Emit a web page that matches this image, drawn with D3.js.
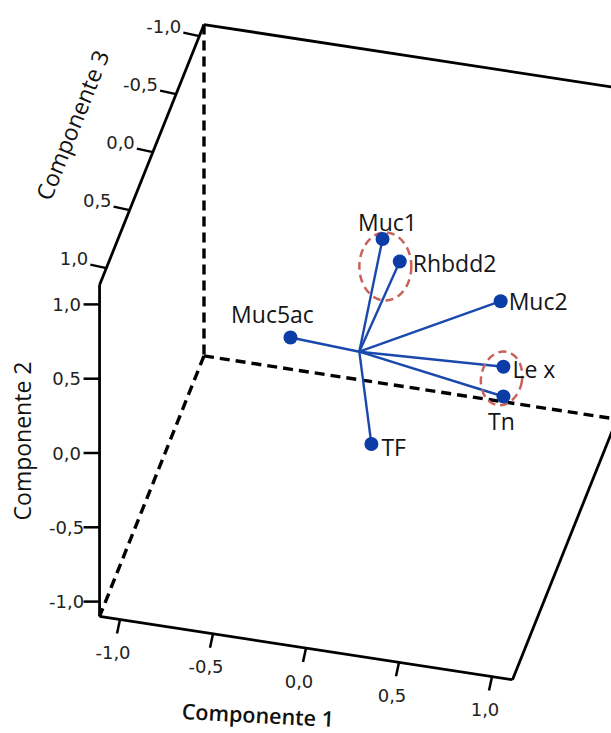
<!DOCTYPE html>
<html><head><meta charset="utf-8">
<script src="https://cdn.jsdelivr.net/npm/d3@7"></script>
<style>html,body{margin:0;padding:0;background:#fff}svg{display:block}</style>
</head><body>
<svg id="chart" width="611" height="733"></svg>
<script>
// ---- data ----
const variables = ["Muc1", "Rhbdd2", "Muc2", "Muc5ac", "Le x", "Tn", "TF"];
const comp1 = [0.10, 0.23, 0.71, -0.32, 0.80, 0.80, 0.14];
const comp2 = [0.70, 0.69, 0.32, 0.19, 0.13, -0.07, -0.36];
const comp3 = [-0.10, 0.05, -0.20, 0.20, 0.10, 0.10, 0.30];
const tickValues = [-1, -0.5, 0, 0.5, 1];
const axisTitles = ["Componente 1", "Componente 2", "Componente 3"];
// highlighted clusters (annotation centres in component space)
const highlightC1 = [0.14, 0.79];
const highlightC2 = [0.60, 0.05];
const highlightC3 = [0.00, 0.10];

// ---- projection (oblique 3D) built from d3 scales ----
const origin = [359.3, 351.7];
const sx1 = d3.scaleLinear().domain([-1, 1]).range([-186, 186]);
const sy1 = d3.scaleLinear().domain([-1, 1]).range([-28.5, 28.5]);
const sy2 = d3.scaleLinear().domain([-1, 1]).range([148.6, -148.6]);
const sx3 = d3.scaleLinear().domain([-1, 1]).range([46.5, -46.5]);
const sy3 = d3.scaleLinear().domain([-1, 1]).range([-116, 116]);
const proj = (a, b, c) => [origin[0] + sx1(a) + sx3(c), origin[1] + sy1(a) + sy2(b) + sy3(c)];
const ext1 = [-1.11, 1.11], ext2 = [-1.10, 1.13], ext3 = [-1.10, 1.146];

const fmt = d3.formatLocale({decimal: ",", thousands: ".", grouping: [3], currency: ["", "€"], minus: "-"}).format(".1f");

const svg = d3.select("#chart");
const line = d3.line();

// box edges
const [a0, a1] = ext1, [b0, b1] = ext2, [c0, c1] = ext3;
const dashedEdges = [
  [[a0, b1, c0], [a0, b0, c0]],
  [[a0, b0, c0], [a1, b0, c0]],
  [[a0, b0, c0], [a0, b0, c1]]
];
const solidEdges = [
  [[a0, b0, c1], [a1, b0, c1]],
  [[a0, b0, c1], [a0, b1, c1]],
  [[a0, b1, c1], [a0, b1, c0]],
  [[a0, b1, c0], [a1, b1, c0]],
  [[a1, b0, c1], [a1, b0, c0]],
  [[a1, b0, c0], [a1, b1, c0]]
];
svg.append("g").selectAll("path").data(dashedEdges).join("path")
  .attr("d", e => line(e.map(p => proj(...p))))
  .attr("fill", "none").attr("stroke", "#000").attr("stroke-width", 3.4)
  .attr("stroke-dasharray", "10,6");
svg.append("g").selectAll("path").data(solidEdges).join("path")
  .attr("d", e => line(e.map(p => proj(...p))))
  .attr("fill", "none").attr("stroke", "#000").attr("stroke-width", 2.8)
  .attr("stroke-linejoin", "miter");

// ticks and tick labels
const tickG = svg.append("g").attr("stroke", "#000").attr("stroke-width", 2.5);
const tickLab = svg.append("g").attr("font-family", "DejaVu Sans, sans-serif")
  .attr("font-size", 18).attr("fill", "#222");
tickValues.forEach(v => {
  // Component 1 (front bottom edge)
  let p = proj(v, b0, c1);
  tickG.append("line").attr("x1", p[0]).attr("y1", p[1]).attr("x2", p[0] - 3).attr("y2", p[1] + 14);
  tickLab.append("text").attr("x", p[0] - 7).attr("y", p[1] + 33)
    .attr("text-anchor", "middle").attr("dominant-baseline", "central").text(fmt(v));
  // Component 2 (front left vertical edge)
  p = proj(a0, v, c1);
  tickG.append("line").attr("x1", p[0]).attr("y1", p[1]).attr("x2", p[0] - 16).attr("y2", p[1]);
  tickLab.append("text").attr("x", p[0] - 33).attr("y", p[1])
    .attr("text-anchor", "middle").attr("dominant-baseline", "central").text(fmt(v));
  // Component 3 (top left receding edge)
  p = proj(a0, b1, v);
  tickG.append("line").attr("x1", p[0]).attr("y1", p[1]).attr("x2", p[0] - 16).attr("y2", p[1] - 3.5);
  tickLab.append("text").attr("x", p[0] - 18).attr("y", p[1] - 10)
    .attr("text-anchor", "end").attr("dominant-baseline", "central").text(fmt(v));
});

// axis titles
const titleG = svg.append("g").attr("font-family", "Open Sans, sans-serif").attr("fill", "#111");
titleG.append("text").attr("transform", "translate(257.5,723) rotate(3)")
  .attr("text-anchor", "middle").attr("font-size", 21.5).attr("font-weight", 600).text(axisTitles[0]);
titleG.append("text").attr("transform", "translate(31,441) rotate(-90)")
  .attr("text-anchor", "middle").attr("font-size", 23).attr("font-weight", 500).text(axisTitles[1]);
const ang3 = Math.atan2(sy3(-1) - sy3(1), sx3(-1) - sx3(1)) * 180 / Math.PI;
titleG.append("text").attr("transform", `translate(72,125) rotate(${ang3})`)
  .attr("text-anchor", "middle").attr("dominant-baseline", "central").attr("font-size", 23)
  .attr("font-weight", 500).text(axisTitles[2]);

// loadings
const pts = variables.map((name, i) => ({name, p: proj(comp1[i], comp2[i], comp3[i])}));
const o = proj(0, 0, 0);
const blue = "#0c3ca6";
svg.append("g").selectAll("line").data(pts).join("line")
  .attr("x1", o[0]).attr("y1", o[1]).attr("x2", d => d.p[0]).attr("y2", d => d.p[1])
  .attr("stroke", "#1a49ad").attr("stroke-width", 2.4);

// highlight ellipses
const ellStyle = [{rx: 26, ry: 34, rot: 0}, {rx: 20.5, ry: 27, rot: 10}];
svg.append("g").selectAll("ellipse").data(highlightC1.map((v, i) => ({p: proj(v, highlightC2[i], highlightC3[i]), s: ellStyle[i]})))
  .join("ellipse")
  .attr("transform", d => `translate(${d.p[0]},${d.p[1]}) rotate(${d.s.rot})`)
  .attr("rx", d => d.s.rx).attr("ry", d => d.s.ry)
  .attr("fill", "none").attr("stroke", "#c9625d").attr("stroke-width", 2.5).attr("stroke-dasharray", "8,5");

svg.append("g").selectAll("circle").data(pts).join("circle")
  .attr("cx", d => d.p[0]).attr("cy", d => d.p[1]).attr("r", 7).attr("fill", blue);

// point labels
const labelPlace = {
  "Muc1": {dx: 5, dy: -8, anchor: "middle"},
  "Rhbdd2": {dx: 13, dy: 10, anchor: "start"},
  "Muc2": {dx: 8, dy: 8.5, anchor: "start"},
  "Muc5ac": {dx: -18, dy: -15, anchor: "middle"},
  "Le x": {dx: 9, dy: 11, anchor: "start"},
  "Tn": {dx: -2, dy: 33, anchor: "middle"},
  "TF": {dx: 10, dy: 12.5, anchor: "start"}
};
svg.append("g").attr("font-family", "Open Sans, sans-serif").attr("font-size", 23).attr("fill", "#151515")
  .selectAll("text").data(pts).join("text")
  .attr("x", d => d.p[0] + labelPlace[d.name].dx).attr("y", d => d.p[1] + labelPlace[d.name].dy)
  .attr("text-anchor", d => labelPlace[d.name].anchor).text(d => d.name);
</script>
</body></html>
